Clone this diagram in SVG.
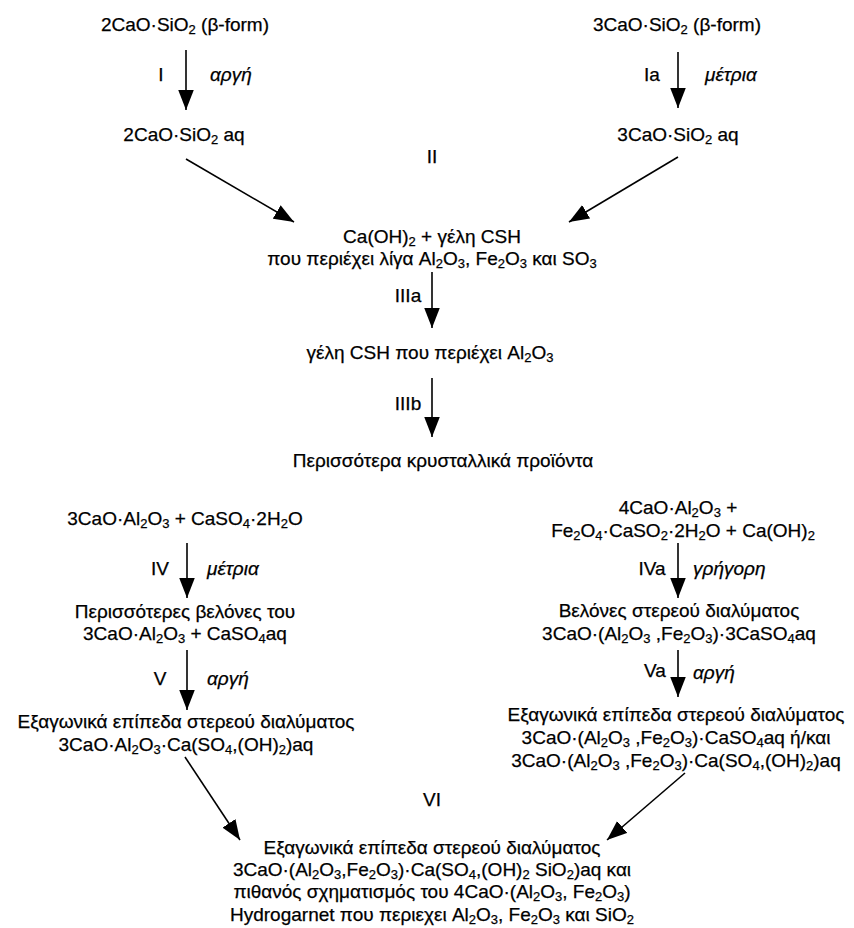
<svg xmlns="http://www.w3.org/2000/svg" width="854" height="928" viewBox="0 0 854 928">
<style>
text{font-family:"Liberation Sans",Arial,sans-serif;font-size:19px;fill:#000;stroke:#000;stroke-width:0.25}
.c{text-anchor:middle}
.i{font-style:italic}
.s{font-size:13px;baseline-shift:-3px}
.a{stroke:#000;stroke-width:1.6;fill:none}
</style>
<defs>
<marker id="ah" markerUnits="userSpaceOnUse" markerWidth="20" markerHeight="16" viewBox="0 0 18 14" refX="18" refY="7" orient="auto">
<path d="M0,0 L18,7 L0,14 Z" fill="#000"/>
</marker>
</defs>
<rect width="854" height="928" fill="#fff"/>
<g id="connectors">
<line class="a" x1="186" y1="50" x2="186" y2="110" marker-end="url(#ah)"/>
<line class="a" x1="678" y1="52" x2="678" y2="108" marker-end="url(#ah)"/>
<line class="a" x1="186" y1="159" x2="294" y2="222" marker-end="url(#ah)"/>
<line class="a" x1="678" y1="157" x2="569" y2="222" marker-end="url(#ah)"/>
<line class="a" x1="432" y1="272" x2="432" y2="328" marker-end="url(#ah)"/>
<line class="a" x1="432" y1="378" x2="432" y2="437" marker-end="url(#ah)"/>
<line class="a" x1="187" y1="543" x2="187" y2="598" marker-end="url(#ah)"/>
<line class="a" x1="678" y1="543" x2="678" y2="598" marker-end="url(#ah)"/>
<line class="a" x1="187" y1="650" x2="187" y2="710" marker-end="url(#ah)"/>
<line class="a" x1="678" y1="650" x2="678" y2="697" marker-end="url(#ah)"/>
<line class="a" x1="185" y1="757" x2="240" y2="840" marker-end="url(#ah)"/>
<line class="a" x1="685" y1="773" x2="607" y2="840" marker-end="url(#ah)"/>
</g>
<g id="labels">
<text class="c" x="161" y="81">I</text>
<text class="i" x="210" y="81">αργή</text>
<text class="c" x="652" y="81">Ia</text>
<text class="i" x="705" y="81">μέτρια</text>
<text class="c" x="432" y="163">II</text>
<text class="c" x="408" y="302">IIIa</text>
<text class="c" x="408" y="410">IIIb</text>
<text class="c" x="160" y="575">IV</text>
<text class="i" x="207" y="575">μέτρια</text>
<text class="c" x="652" y="575">IVa</text>
<text class="i" x="693" y="575">γρήγορη</text>
<text class="c" x="160" y="685">V</text>
<text class="i" x="207" y="685">αργή</text>
<text class="c" x="655" y="677">Va</text>
<text class="i" x="693" y="679">αργή</text>
<text class="c" x="432" y="806">VI</text>
</g>
<g id="n1"><text class="c" x="185" y="31">2CaO·SiO<tspan class="s">2</tspan> (β-form)</text></g>
<g id="n2"><text class="c" x="677" y="31">3CaO·SiO<tspan class="s">2</tspan> (β-form)</text></g>
<g id="n3"><text class="c" x="184" y="141">2CaO·SiO<tspan class="s">2</tspan> aq</text></g>
<g id="n4"><text class="c" x="678" y="141">3CaO·SiO<tspan class="s">2</tspan> aq</text></g>
<g id="n5">
<text class="c" x="432" y="243">Ca(OH)<tspan class="s">2</tspan> + γέλη CSH</text>
<text class="c" x="432" y="265">που περιέχει λίγα Al<tspan class="s">2</tspan>O<tspan class="s">3</tspan>, Fe<tspan class="s">2</tspan>O<tspan class="s">3</tspan> και SO<tspan class="s">3</tspan></text>
</g>
<g id="n6"><text class="c" x="430" y="359">γέλη CSH που περιέχει Al<tspan class="s">2</tspan>O<tspan class="s">3</tspan></text></g>
<g id="n7"><text class="c" x="443" y="467">Περισσότερα κρυσταλλικά προϊόντα</text></g>
<g id="n8"><text class="c" x="185" y="525">3CaO·Al<tspan class="s">2</tspan>O<tspan class="s">3</tspan> + CaSO<tspan class="s">4</tspan>·2H<tspan class="s">2</tspan>O</text></g>
<g id="n9">
<text class="c" x="678" y="514">4CaO·Al<tspan class="s">2</tspan>O<tspan class="s">3</tspan> +</text>
<text class="c" x="683" y="537">Fe<tspan class="s">2</tspan>O<tspan class="s">4</tspan>·CaSO<tspan class="s">2</tspan>·2H<tspan class="s">2</tspan>O + Ca(OH)<tspan class="s">2</tspan></text>
</g>
<g id="n10">
<text class="c" x="185" y="618">Περισσότερες βελόνες του</text>
<text class="c" x="185" y="640">3CaO·Al<tspan class="s">2</tspan>O<tspan class="s">3</tspan> + CaSO<tspan class="s">4</tspan>aq</text>
</g>
<g id="n11">
<text class="c" x="679" y="617">Βελόνες στερεού διαλύματος</text>
<text class="c" x="679" y="640">3CaO·(Al<tspan class="s">2</tspan>O<tspan class="s">3</tspan> ,Fe<tspan class="s">2</tspan>O<tspan class="s">3</tspan>)·3CaSO<tspan class="s">4</tspan>aq</text>
</g>
<g id="n12">
<text class="c" x="186" y="728">Εξαγωνικά επίπεδα στερεού διαλύματος</text>
<text class="c" x="186" y="751">3CaO·Al<tspan class="s">2</tspan>O<tspan class="s">3</tspan>·Ca(SO<tspan class="s">4</tspan>,(OH)<tspan class="s">2</tspan>)aq</text>
</g>
<g id="n13">
<text class="c" x="676" y="721">Εξαγωνικά επίπεδα στερεού διαλύματος</text>
<text class="c" x="676" y="744">3CaO·(Al<tspan class="s">2</tspan>O<tspan class="s">3</tspan> ,Fe<tspan class="s">2</tspan>O<tspan class="s">3</tspan>)·CaSO<tspan class="s">4</tspan>aq ή/και</text>
<text class="c" x="676" y="767">3CaO·(Al<tspan class="s">2</tspan>O<tspan class="s">3</tspan> ,Fe<tspan class="s">2</tspan>O<tspan class="s">3</tspan>)·Ca(SO<tspan class="s">4</tspan>,(OH)<tspan class="s">2</tspan>)aq</text>
</g>
<g id="n14">
<text class="c" x="432" y="854">Εξαγωνικά επίπεδα στερεού διαλύματος</text>
<text class="c" x="432" y="876">3CaO·(Al<tspan class="s">2</tspan>O<tspan class="s">3</tspan>,Fe<tspan class="s">2</tspan>O<tspan class="s">3</tspan>)·Ca(SO<tspan class="s">4</tspan>,(OH)<tspan class="s">2</tspan> SiO<tspan class="s">2</tspan>)aq και</text>
<text class="c" x="432" y="898">πιθανός σχηματισμός του 4CaO·(Al<tspan class="s">2</tspan>O<tspan class="s">3</tspan>, Fe<tspan class="s">2</tspan>O<tspan class="s">3</tspan>)</text>
<text class="c" x="432" y="921">Hydrogarnet που περιεχει Al<tspan class="s">2</tspan>O<tspan class="s">3</tspan>, Fe<tspan class="s">2</tspan>O<tspan class="s">3</tspan> και SiO<tspan class="s">2</tspan></text>
</g>
</svg>
